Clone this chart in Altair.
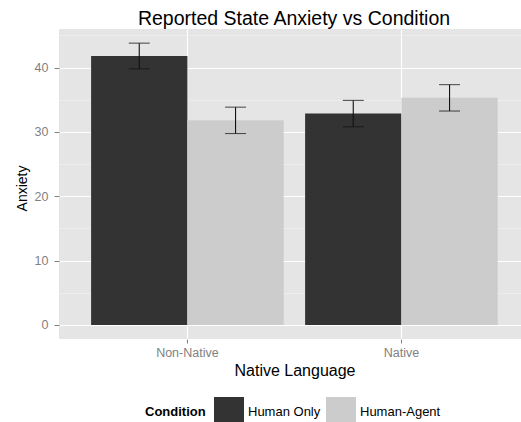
import altair as alt
import pandas as pd

languages = ["Non-Native", "Non-Native", "Native", "Native"]
conditions = ["Human Only", "Human-Agent", "Human Only", "Human-Agent"]
anxiety = [41.8, 31.8, 32.85, 35.3]
std_err = [2.0, 2.05, 2.05, 2.05]

lang_order = ["Non-Native", "Native"]
cond_order = ["Human Only", "Human-Agent"]
cond_colors = ["#333333", "#CCCCCC"]
y_ticks = [0, 5, 10, 15, 20, 25, 30, 35, 40, 45]

df = pd.DataFrame({"lang": languages, "cond": conditions, "anxiety": anxiety, "se": std_err})

FONT = "Liberation Sans"
major = "datum.value % 10 === 0"

x_enc = alt.X(
    "lang:N",
    sort=lang_order,
    scale=alt.Scale(range=[0, 470.8], paddingInner=0.1, paddingOuter=0.15),
    axis=alt.Axis(
        title="Native Language",
        labelAngle=0,
        grid=True,
        gridColor="#FFFFFF",
        gridWidth=1.2,
        tickColor="#7F7F7F",
        tickSize=4,
        labelPadding=3,
        labelColor="#7F7F7F",
        labelFontSize=12.5,
        labelFont=FONT,
        titleFont=FONT,
        titleFontSize=16,
        titleFontWeight="normal",
        titleColor="#000000",
        titleX=235.5,
        titleY=36,
        titleBaseline="alphabetic",
        domain=False,
    ),
)
xoff_enc = alt.XOffset("cond:N", sort=cond_order, scale=alt.Scale(paddingInner=0, paddingOuter=0))
y_scale = alt.Scale(domain=[-2.19, 46.0], nice=False, zero=False)
y_axis = alt.Axis(
    title="Anxiety",
    values=y_ticks,
    grid=True,
    gridColor={"condition": {"test": major, "value": "#FFFFFF"}, "value": "#F2F2F2"},
    gridWidth={"condition": {"test": major, "value": 1.2}, "value": 0.6},
    tickColor={"condition": {"test": major, "value": "#7F7F7F"}, "value": "rgba(0,0,0,0)"},
    tickSize=5,
    labelPadding=6,
    labelExpr="datum.value % 10 === 0 ? datum.label : ''",
    labelColor="#7F7F7F",
    labelFontSize=12.5,
    labelFont=FONT,
    titleFont=FONT,
    titleFontSize=14,
    titleFontWeight="normal",
    titleColor="#000000",
    titleX=-37,
    titleY=159,
    titleBaseline="middle",
    domain=False,
)
color_enc = alt.Color(
    "cond:N",
    scale=alt.Scale(domain=cond_order, range=cond_colors),
    legend=alt.Legend(
        title="Condition",
        orient="none",
        legendX=86,
        legendY=368,
        direction="horizontal",
        titleOrient="left",
        titleFont=FONT,
        titleFontSize=13,
        titleFontWeight="bold",
        titleColor="#000000",
        titleBaseline="middle",
        titlePadding=8,
        labelFont=FONT,
        labelFontSize=13,
        labelColor="#000000",
        labelOffset=4,
        columnPadding=5,
        symbolType="square",
        symbolSize=900,
        symbolStrokeWidth=0,
        symbolOpacity=1,
    ),
)

base = alt.Chart(df).transform_calculate(
    low="datum.anxiety - datum.se", high="datum.anxiety + datum.se"
)

bars = base.mark_bar().encode(
    x=x_enc,
    xOffset=xoff_enc,
    y=alt.Y("anxiety:Q", scale=y_scale, axis=y_axis),
    y2=alt.datum(0),
    color=color_enc,
)

err = base.mark_rule(color="#111111", strokeWidth=1.1).encode(
    x=x_enc,
    xOffset=xoff_enc,
    y=alt.Y("low:Q", scale=y_scale, axis=y_axis),
    y2="high:Q",
)
cap_lo = base.mark_tick(color="#111111", thickness=1.1, size=21, orient="horizontal").encode(
    x=x_enc, xOffset=xoff_enc, y=alt.Y("low:Q", scale=y_scale, axis=y_axis)
)
cap_hi = base.mark_tick(color="#111111", thickness=1.1, size=21, orient="horizontal").encode(
    x=x_enc, xOffset=xoff_enc, y=alt.Y("high:Q", scale=y_scale, axis=y_axis)
)

chart = (
    alt.layer(bars, err, cap_lo, cap_hi)
    .properties(
        width=462,
        height=310,
        background="#FFFFFF",
        autosize=alt.AutoSizeParams(type="none"),
        padding={"left": 59, "top": 29, "right": 0, "bottom": 83},
        title=alt.TitleParams(
            "Reported State Anxiety vs Condition",
            font=FONT,
            fontSize=19.5,
            fontWeight="normal",
            color="#000000",
            anchor="middle",
            dx=4,
            dy=20,
            offset=5,
            baseline="alphabetic",
        ),
    )
    .configure_view(fill="#E5E5E5", strokeWidth=0, stroke="transparent")
)

chart.save("out.html", embed_options={"renderer": "svg", "actions": False})
